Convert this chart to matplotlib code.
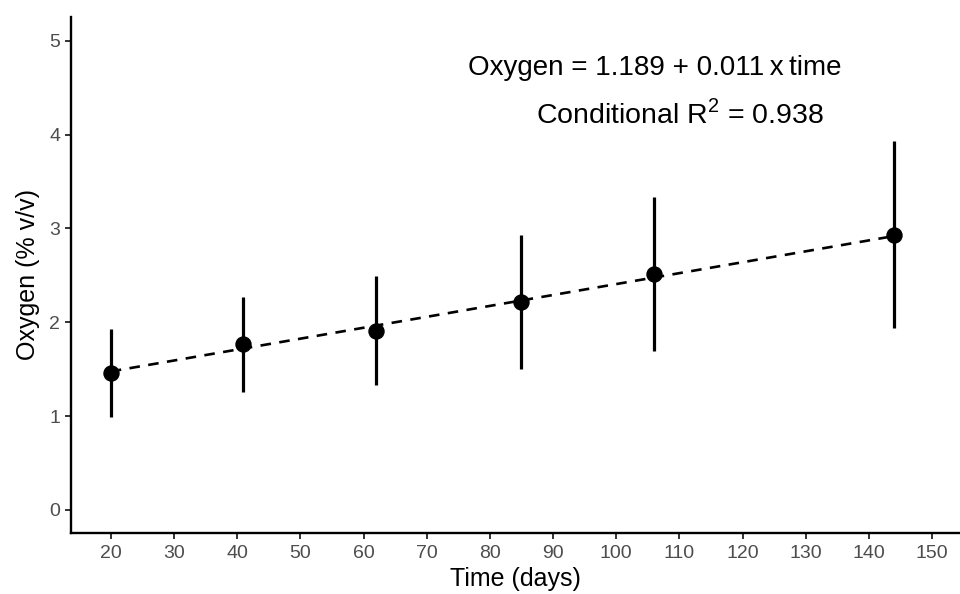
import matplotlib
matplotlib.use("Agg")
import matplotlib.pyplot as plt
import numpy as np

plt.rcParams['font.family'] = ['Liberation Sans', 'DejaVu Sans']

# Data
time_days = [20, 41, 62, 85, 106, 144]
oxygen_mean = [1.456, 1.769, 1.910, 2.213, 2.511, 2.930]
oxygen_low = [0.994, 1.260, 1.328, 1.499, 1.694, 1.936]
oxygen_high = [1.925, 2.273, 2.493, 2.930, 3.338, 3.931]
fit_x = [20, 144]
fit_y = [1.476, 2.919]
x_ticks = list(range(20, 151, 10))
y_ticks = [0, 1, 2, 3, 4, 5]

W, H = 960, 594
fig = plt.figure(figsize=(W/100, H/100), dpi=100)
ax = fig.add_axes([70.7/W, (H-532.7)/H, 1 - 70.7/W, (532.7-17.3)/H])

ax.plot(fit_x, fit_y, color='black', linestyle=(0, (4.0, 3.2)), linewidth=1.9, zorder=2)
ax.vlines(time_days, oxygen_low, oxygen_high, color='black', linewidth=2.3, zorder=3)
ax.plot(time_days, oxygen_mean, 'o', color='black', markersize=10.8, zorder=4)

ax.set_xlim(13.66, 154.4)
ax.set_ylim(-0.242, 5.249)
ax.set_xticks(x_ticks)
ax.set_yticks(y_ticks)

for s in ['top', 'right']:
    ax.spines[s].set_visible(False)
for s in ['left', 'bottom']:
    ax.spines[s].set_linewidth(1.7)
    ax.spines[s].set_color('black')

ax.tick_params(axis='both', length=4.5, width=1.4, color='#333333',
               labelcolor='#4D4D4D', labelsize=14)
ax.tick_params(axis='x', pad=4.5)
ax.tick_params(axis='y', pad=3)

ax.set_xlabel('Time (days)', fontsize=18, labelpad=3.5)
ax.set_ylabel('Oxygen (% v/v)', fontsize=18, labelpad=7)

fig.text(655/W, (H-68)/H, 'Oxygen = 1.189 + 0.011\u2009x\u2009time', fontsize=20,
         ha='center', va='center')
fig.text(680/W, (H-114)/H, r'Conditional R$^{\mathregular{2}}$ = 0.938', fontsize=20.5,
         ha='center', va='center')

fig.savefig('out.png', dpi=100)
